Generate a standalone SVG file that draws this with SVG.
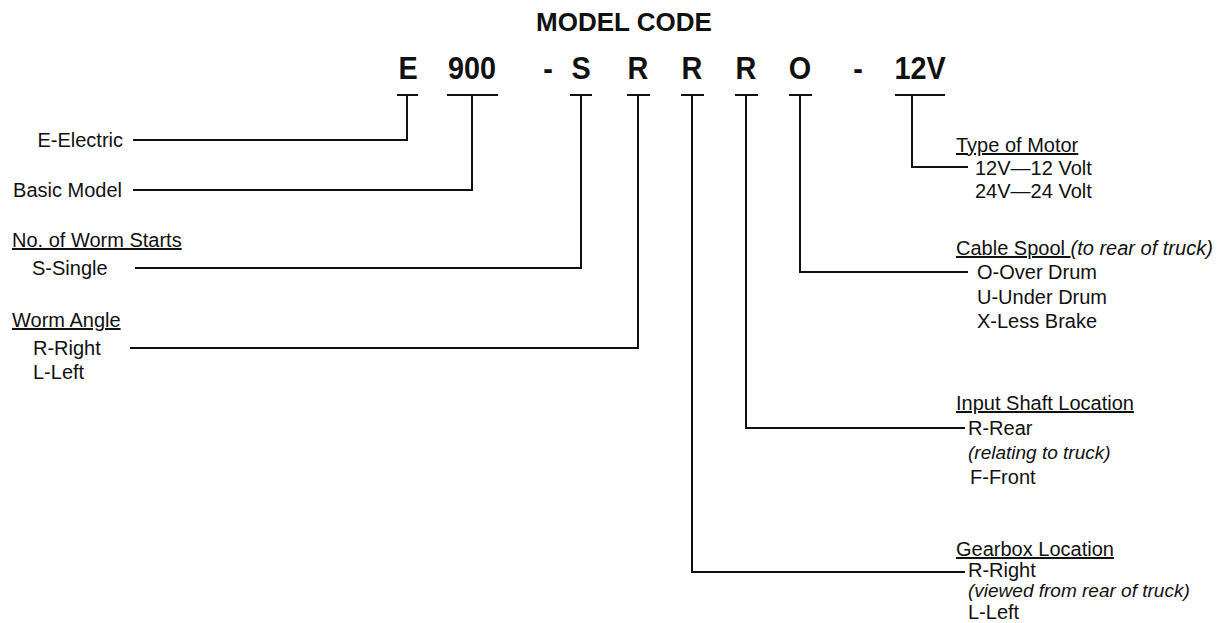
<svg xmlns="http://www.w3.org/2000/svg" width="1226" height="623" viewBox="0 0 1226 623">
<style>
text{font-family:"Liberation Sans",Arial,sans-serif;fill:#111}
.t{font-size:20px}
.h{font-size:20px;text-decoration:underline}
.i{font-size:19px;font-style:italic}
.code{font-size:32px;font-weight:bold;text-anchor:middle}
.title{font-size:26px;font-weight:bold;text-anchor:middle}
.ln{fill:none;stroke:#111;stroke-width:2}
</style>
<rect width="1226" height="623" fill="#fff"/>
<text class="title" x="624" y="31">MODEL CODE</text>
<g id="code">
<g transform="translate(408,79) scale(0.9,1)"><text class="code">E</text></g>
<g transform="translate(472,79) scale(0.9,1)"><text class="code">900</text></g>
<g transform="translate(548,79) scale(0.9,1)"><text class="code">-</text></g>
<g transform="translate(581,79) scale(0.9,1)"><text class="code">S</text></g>
<g transform="translate(638,79) scale(0.9,1)"><text class="code">R</text></g>
<g transform="translate(692,79) scale(0.9,1)"><text class="code">R</text></g>
<g transform="translate(746,79) scale(0.9,1)"><text class="code">R</text></g>
<g transform="translate(800,79) scale(0.9,1)"><text class="code">O</text></g>
<g transform="translate(858,79) scale(0.9,1)"><text class="code">-</text></g>
<g transform="translate(920,79) scale(0.9,1)"><text class="code">12V</text></g>
</g>
<g id="connectors" class="ln">
<path d="M397 95H418M407 95V140H133"/>
<path d="M447 95H498M472 95V190H133"/>
<path d="M570 95H592M581 95V268H135"/>
<path d="M627 95H650M638 95V348H130"/>
<path d="M681 95H704M692 95V572H965"/>
<path d="M735 95H758M746 95V428H965"/>
<path d="M789 95H812M800 95V272H968"/>
<path d="M895 95H945M912 95V167H968"/>
</g>
<g id="electric"><text class="t" x="123" y="147" text-anchor="end">E-Electric</text></g>
<g id="basic"><text class="t" x="122" y="197" text-anchor="end">Basic Model</text></g>
<g id="starts"><text class="h" x="12" y="247">No. of Worm Starts</text><text class="t" x="32" y="275">S-Single</text></g>
<g id="angle"><text class="h" x="12" y="327">Worm Angle</text><text class="t" x="33" y="355">R-Right</text><text class="t" x="33" y="379">L-Left</text></g>
<g id="motor"><text class="h" x="956" y="152">Type of Motor</text><text class="t" x="975" y="175">12V—12 Volt</text><text class="t" x="975" y="198">24V—24 Volt</text></g>
<g id="spool"><text class="t" x="956" y="255"><tspan text-decoration="underline">Cable Spool </tspan><tspan font-style="italic">(to rear of truck)</tspan></text><text class="t" x="977" y="279">O-Over Drum</text><text class="t" x="977" y="304">U-Under Drum</text><text class="t" x="977" y="328">X-Less Brake</text></g>
<g id="shaft"><text class="h" x="956" y="410">Input Shaft Location</text><text class="t" x="968" y="435">R-Rear</text><text class="i" x="968" y="459">(relating to truck)</text><text class="t" x="970" y="484">F-Front</text></g>
<g id="gearbox"><text class="h" x="956" y="556">Gearbox Location</text><text class="t" x="968" y="577" font-size="18">R-Right</text><text class="i" x="968" y="597" font-size="16">(viewed from rear of truck)</text><text class="t" x="968" y="619" font-size="17">L-Left</text></g>
</svg>
